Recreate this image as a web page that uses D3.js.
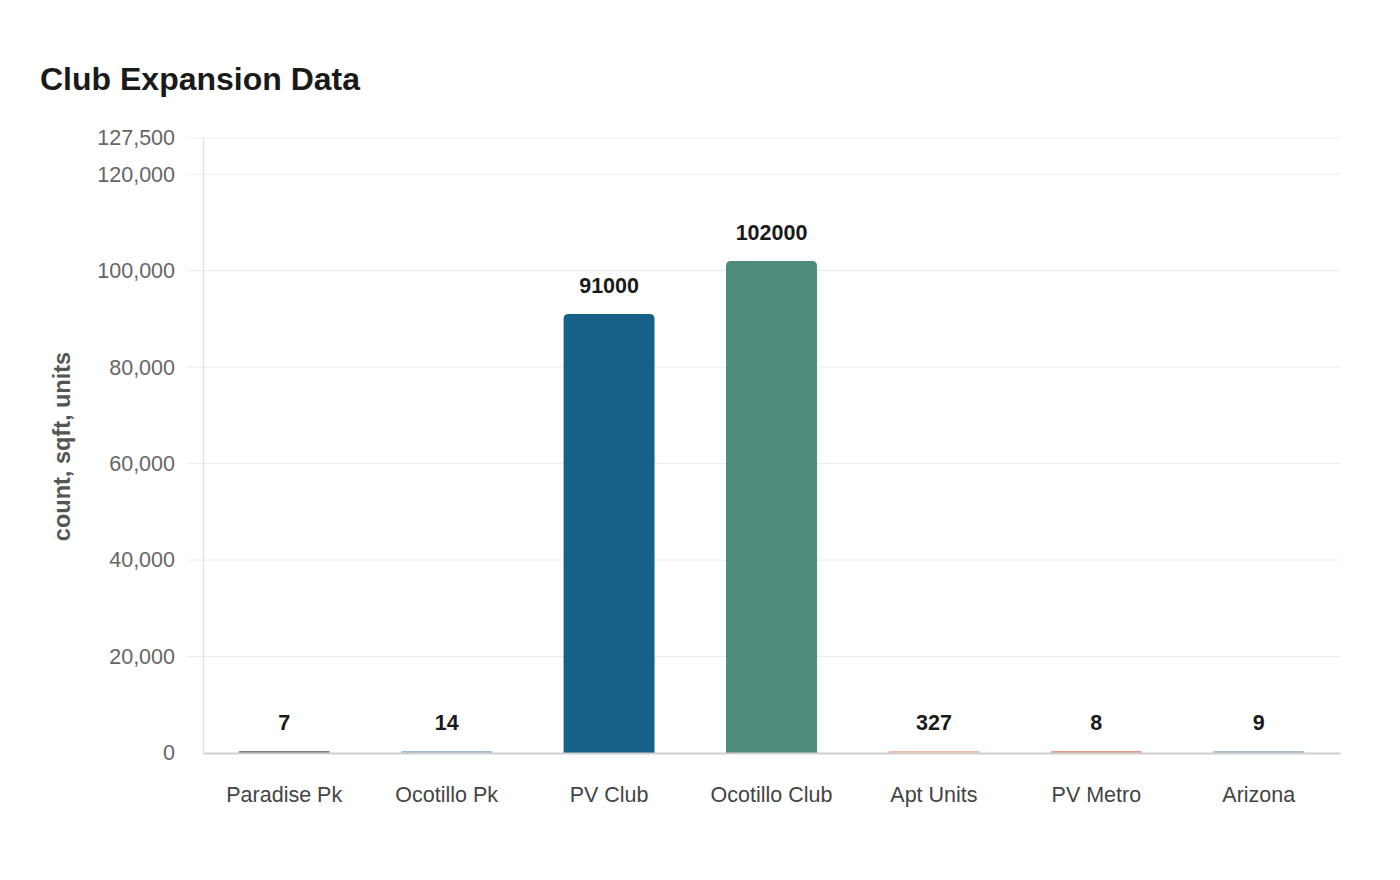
<!DOCTYPE html>
<html><head><meta charset="utf-8">
<script src="https://cdn.jsdelivr.net/npm/d3@7"></script>
<style>
body{margin:0;background:#fff;font-family:"Liberation Sans",Arial,sans-serif;}
</style></head>
<body><svg id="c" width="1400" height="880"></svg>
<script>
const categories = ["Paradise Pk","Ocotillo Pk","PV Club","Ocotillo Club","Apt Units","PV Metro","Arizona"];
const values = [7,14,91000,102000,327,8,9];
const colors = ["#7b7b7b","#9fbbd3","#176088","#4d8c7b","#f1b9a0","#e0a088","#a9bfd1"];
const yTicks = [0,20000,40000,60000,80000,100000,120000,127500];
const yMax = 127500;

const svg = d3.select("#c");
const m = {l:203, r:1340, t:138, b:753};
const x = d3.scaleBand().domain(categories).range([m.l,m.r]).paddingInner(0.44).paddingOuter(0.22);
const y = d3.scaleLinear().domain([0,yMax]).range([m.b,m.t]);

svg.append("text").attr("x",40).attr("y",90).text("Club Expansion Data")
  .attr("font-size",32).attr("font-weight","bold").attr("fill","#1a1a1a");

// grid
const g = svg.append("g");
g.selectAll("line.grid").data(yTicks.filter(d=>d>0)).join("line")
  .attr("x1",m.l-16).attr("x2",m.r).attr("y1",d=>y(d)).attr("y2",d=>y(d))
  .attr("stroke","#ebebeb").attr("stroke-width",1);
// y axis
const yAxis = d3.axisLeft(y).tickValues(yTicks).tickFormat(d3.format(",")).tickSize(0).tickPadding(28);
const ya = svg.append("g").attr("transform",`translate(${m.l},0)`).call(yAxis);
ya.select(".domain").attr("stroke","#e3e3e3").attr("stroke-width",1.5);
ya.selectAll("text").attr("font-size",21.5).attr("fill","#666").attr("font-family","Liberation Sans, Arial, sans-serif");

svg.append("text").attr("transform",`translate(70,${(m.t+m.b)/2+1}) rotate(-90)`)
  .attr("text-anchor","middle").attr("font-size",23.5).attr("font-weight","bold").attr("fill","#555")
  .text("count, sqft, units");

// bars
const r = 5;
svg.selectAll("path.bar").data(values).join("path")
  .attr("fill",(d,i)=>colors[i])
  .attr("d",(d,i)=>{
    const x0 = x(categories[i]), w = x.bandwidth();
    const top = Math.min(y(d), m.b-2);
    const h = m.b-top;
    const rr = Math.min(r,h/2);
    return `M${x0},${m.b}V${top+rr}Q${x0},${top} ${x0+rr},${top}H${x0+w-rr}Q${x0+w},${top} ${x0+w},${top+rr}V${m.b}Z`;
  });

// x axis
const xAxis = d3.axisBottom(x).tickSize(0).tickPadding(34);
const xa = svg.append("g").attr("transform",`translate(0,${m.b})`).call(xAxis);
xa.select(".domain").attr("stroke","#d0d0d0").attr("stroke-width",2);
xa.selectAll("text").attr("font-size",21.5).attr("fill","#444").attr("font-family","Liberation Sans, Arial, sans-serif");

// value labels
svg.selectAll("text.val").data(values).join("text")
  .attr("x",(d,i)=>x(categories[i])+x.bandwidth()/2)
  .attr("y",d=>Math.min(y(d),m.b-2)-21)
  .attr("text-anchor","middle").attr("font-size",21.5).attr("font-weight","bold").attr("fill","#1a1a1a")
  .text(d=>d);
</script></body></html>
